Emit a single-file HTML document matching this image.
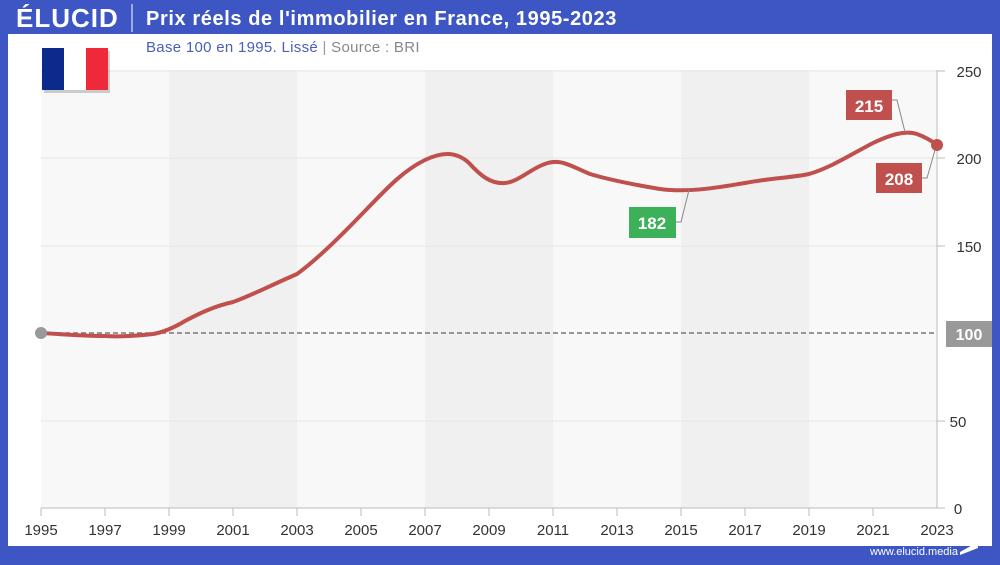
<!DOCTYPE html>
<html><head><meta charset="utf-8"><style>
body{margin:0;width:1000px;height:560px;overflow:hidden;background:#3d56c4;font-family:"Liberation Sans",sans-serif}
</style></head><body>
<svg width="1000" height="560" xmlns="http://www.w3.org/2000/svg" font-family="Liberation Sans, sans-serif">
<rect width="1000" height="560" fill="#3d56c4"/>
<rect x="8" y="34" width="984" height="512" fill="#fff"/>
<line x1="132" y1="4" x2="132" y2="32" stroke="#fff" stroke-width="1"/>
<text x="16" y="27" fill="#fff" font-size="26" font-weight="bold" letter-spacing="1">ÉLUCID</text>
<text x="146" y="25" fill="#fff" font-size="20" font-weight="bold" letter-spacing="0.6">Prix réels de l'immobilier en France, 1995-2023</text>
<text x="146" y="52" fill="#4a5fb8" font-size="15" letter-spacing="0.3">Base 100 en 1995. Lissé <tspan fill="#999"> | </tspan><tspan fill="#888"> Source : BRI</tspan></text>
<rect x="41" y="70" width="128" height="438" fill="#f8f8f8"/>
<rect x="169" y="70" width="128" height="438" fill="#f0f0f0"/>
<rect x="297" y="70" width="128" height="438" fill="#f8f8f8"/>
<rect x="425" y="70" width="128" height="438" fill="#f0f0f0"/>
<rect x="553" y="70" width="128" height="438" fill="#f8f8f8"/>
<rect x="681" y="70" width="128" height="438" fill="#f0f0f0"/>
<rect x="809" y="70" width="128" height="438" fill="#f8f8f8"/>
<g stroke="#e6e6e6"><line x1="41" x2="937" y1="71" y2="71"/><line x1="41" x2="937" y1="158" y2="158"/><line x1="41" x2="937" y1="246" y2="246"/><line x1="41" x2="937" y1="421" y2="421"/></g>
<line x1="41" x2="937" y1="508" y2="508" stroke="#bbb"/>
<line x1="937" x2="937" y1="70" y2="508" stroke="#bbb"/>
<g stroke="#bbb">
<line x1="41" x2="41" y1="508" y2="516"/><line x1="105" x2="105" y1="508" y2="516"/><line x1="169" x2="169" y1="508" y2="516"/><line x1="233" x2="233" y1="508" y2="516"/><line x1="297" x2="297" y1="508" y2="516"/><line x1="361" x2="361" y1="508" y2="516"/><line x1="425" x2="425" y1="508" y2="516"/><line x1="489" x2="489" y1="508" y2="516"/><line x1="553" x2="553" y1="508" y2="516"/><line x1="617" x2="617" y1="508" y2="516"/><line x1="681" x2="681" y1="508" y2="516"/><line x1="745" x2="745" y1="508" y2="516"/><line x1="809" x2="809" y1="508" y2="516"/><line x1="873" x2="873" y1="508" y2="516"/>
<line x1="937" x2="945" y1="71" y2="71"/><line x1="937" x2="945" y1="158" y2="158"/><line x1="937" x2="945" y1="246" y2="246"/><line x1="937" x2="945" y1="421" y2="421"/><line x1="937" x2="945" y1="508" y2="508"/>
</g>
<g font-size="15" fill="#333" text-anchor="middle">
<text x="41" y="535">1995</text><text x="105" y="535">1997</text><text x="169" y="535">1999</text><text x="233" y="535">2001</text><text x="297" y="535">2003</text><text x="361" y="535">2005</text><text x="425" y="535">2007</text><text x="489" y="535">2009</text><text x="553" y="535">2011</text><text x="617" y="535">2013</text><text x="681" y="535">2015</text><text x="745" y="535">2017</text><text x="809" y="535">2019</text><text x="873" y="535">2021</text><text x="937" y="535">2023</text>
</g>
<g font-size="15" fill="#333" text-anchor="middle">
<text x="969" y="77">250</text><text x="969" y="164">200</text><text x="969" y="252">150</text><text x="958" y="427">50</text><text x="958" y="514">0</text>
</g>
<line x1="41" x2="937" y1="333" y2="333" stroke="#777" stroke-width="1.5" stroke-dasharray="5,3"/>
<rect x="946" y="321" width="46" height="26" fill="#999"/>
<text x="969" y="340" font-size="16" fill="#fff" text-anchor="middle" font-weight="bold">100</text>
<path d="M41,333 C60,334 80,336 105,336 C120,337 135,336 153,334 C165,332 175,327 185,321 C200,313 215,306 233,302 C250,296 265,288 297,274 C315,261 335,242 361,215 C380,196 400,172 425,160 C440,153 455,150 469,163 C480,175 490,184 505,183 C520,182 535,164 553,162 C565,161 575,168 590,174 C610,180 630,184 660,189 C690,193 720,187 745,183 C770,178 790,178 809,174 C830,168 850,155 873,143 C890,135 905,130 917,134 C925,137 932,141 937,145" fill="none" stroke="#c0504d" stroke-width="4"/>
<circle cx="41" cy="333" r="6" fill="#999"/>
<circle cx="937" cy="145" r="6" fill="#c0504d"/>
<g stroke="#888" fill="none"><polyline points="891,100 897,100 905,132"/><polyline points="922,178 927,178 935,150"/><polyline points="676,222 681,222 689,190"/></g>
<rect x="846" y="90" width="46" height="30" fill="#c0504d"/><text x="869" y="112" font-size="17" font-weight="bold" fill="#fff" text-anchor="middle">215</text>
<rect x="876" y="163" width="46" height="30" fill="#c0504d"/><text x="899" y="185" font-size="17" font-weight="bold" fill="#fff" text-anchor="middle">208</text>
<rect x="629" y="207" width="47" height="31" fill="#3cb15a"/><text x="652" y="229" font-size="17" font-weight="bold" fill="#fff" text-anchor="middle">182</text>
<rect x="44" y="51" width="66" height="42" fill="#000" opacity="0.18"/>
<rect x="42" y="48" width="22" height="42" fill="#0b2a8c"/><rect x="64" y="48" width="22" height="42" fill="#fff"/><rect x="86" y="48" width="22" height="42" fill="#ee2a3a"/>
<text x="958" y="555" font-size="11" fill="#fff" text-anchor="end">www.elucid.media</text>
<polygon points="960,552 978,542 978,548 960,555" fill="#fff"/>
</svg>
</body></html>
